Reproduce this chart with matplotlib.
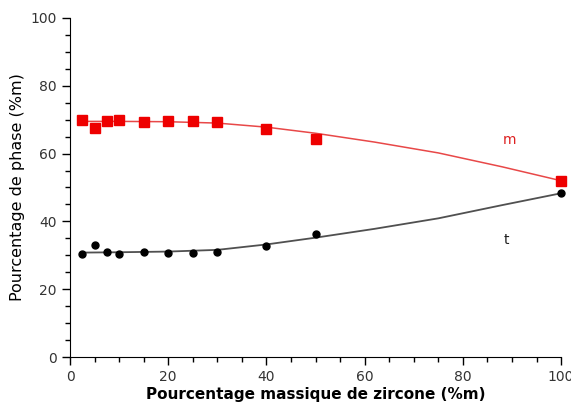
import matplotlib.pyplot as plt
from matplotlib.ticker import MultipleLocator

# Measured points (%m zircone vs %m phase)
zircone = [2.5, 5, 7.5, 10, 15, 20, 25, 30, 40, 50, 100]
phase_m = [70.0, 67.5, 69.6, 70.0, 69.2, 69.5, 69.5, 69.2, 67.4, 64.3, 52.0]
phase_t = [30.3, 33.0, 30.9, 30.4, 31.1, 30.8, 30.8, 31.1, 32.8, 36.2, 48.3]

# Fitted curves
fit_x = [2.5, 10, 20, 30, 40, 50, 62, 75, 88, 100]
fit_m = [69.5, 69.5, 69.4, 69.0, 67.8, 66.0, 63.4, 60.2, 56.1, 52.0]
fit_t = [30.8, 30.9, 31.1, 31.6, 33.2, 35.2, 37.8, 40.9, 44.8, 48.3]

fig = plt.figure(figsize=(5.71, 4.05), dpi=100)
ax = fig.add_axes([0.1226, 0.1185, 0.86, 0.8371])

ax.plot(fit_x, fit_m, color="#e84848", lw=1.1)
ax.plot(fit_x, fit_t, color="#505050", lw=1.3)
ax.plot(zircone, phase_m, "s", color="#ee0000", ms=6.5, clip_on=False)
ax.plot(zircone, phase_t, "o", color="black", ms=5, clip_on=False)

ax.text(89.6, 64, "m", color="#dd2020", fontsize=10, ha="center", va="center")
ax.text(88.8, 34.5, "t", color="#202020", fontsize=10, ha="center", va="center")

ax.set_xlim(0, 100)
ax.set_ylim(0, 100)
ax.xaxis.set_major_locator(MultipleLocator(20))
ax.xaxis.set_minor_locator(MultipleLocator(5))
ax.yaxis.set_major_locator(MultipleLocator(20))
ax.yaxis.set_minor_locator(MultipleLocator(5))
ax.tick_params(which="major", length=6, width=1, labelsize=10, labelcolor="#333333",
               direction="out")
ax.tick_params(which="minor", length=3.5, width=1, direction="out")
for side in ["top", "right"]:
    ax.spines[side].set_visible(False)

ax.set_xlabel("Pourcentage massique de zircone (%m)", fontsize=11, fontweight="bold", labelpad=2)
ax.set_ylabel("Pourcentage de phase (%m)", fontsize=11.5, labelpad=4)

plt.savefig("out.png", dpi=100)
